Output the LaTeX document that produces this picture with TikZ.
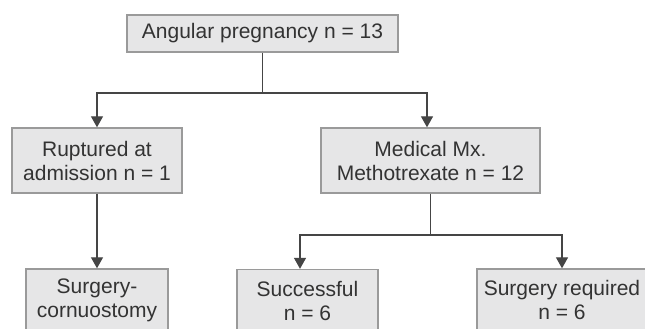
\documentclass[tikz,border=0pt]{standalone}
\usepackage{fontspec}
\setmainfont{Liberation Sans}
\usetikzlibrary{arrows.meta}
\definecolor{boxfill}{HTML}{E6E6E7}
\definecolor{boxline}{HTML}{9A9A9A}
\definecolor{wire}{HTML}{454545}
\definecolor{txt}{HTML}{333333}
\tikzset{
  box/.style={draw=boxline, fill=boxfill, line width=1.4pt, inner sep=0pt,
    align=center, text=txt, font=\fontsize{21}{24}\selectfont},
  wirearrow/.style={draw=wire, line width=1.3pt,
    -{Triangle[length=11pt,width=12pt]}},
  wireline/.style={draw=wire, line width=1.3pt}
}
\begin{document}
\begin{tikzpicture}[x=1pt,y=-1pt]
\useasboundingbox (0,0) rectangle (645,329);
\clip (0,0) rectangle (645,329);
\fill[white] (0,0) rectangle (645,329);

\node[box, minimum width=271pt, minimum height=37pt] (A) at (262.5,33.5) {Angular pregnancy n = 13};
\node[box, minimum width=170pt, minimum height=65pt] (B) at (97,160.5) {Ruptured at\\admission n = 1};
\node[box, minimum width=219pt, minimum height=65pt] (C) at (430.5,160.5) {Medical Mx.\\Methotrexate n = 12};
\node[box, minimum width=142pt, minimum height=62pt] (D) at (97,300) {Surgery-\\cornuostomy};
\node[box, minimum width=141pt, minimum height=62pt] (E) at (307.5,300.5) {Successful\\n = 6};
\node[box, minimum width=170pt, minimum height=62pt] (F) at (562,300) {Surgery required\\n = 6};

\draw[wireline] (A.south) -- (A.south |- 0,93) coordinate (Aj);
\draw[wirearrow] (Aj) -| (B.north);
\draw[wirearrow] (Aj) -| ([xshift=-3.5pt]C.north);

\draw[wirearrow] (B.south) -- (D.north);

\draw[wireline] (C.south) -- (C.south |- 0,235) coordinate (Cj);
\draw[wirearrow] (Cj) -| ([xshift=-7.5pt]E.north);
\draw[wirearrow] (Cj) -| (F.north);
\end{tikzpicture}
\end{document}
